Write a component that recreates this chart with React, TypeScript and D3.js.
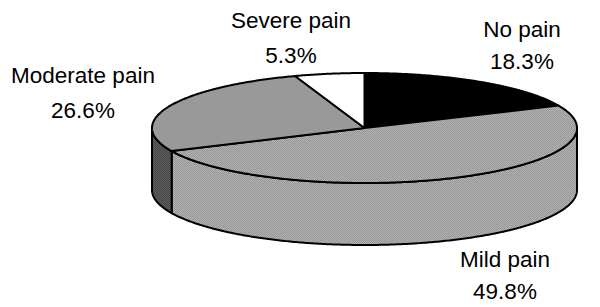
import React from "react";
import * as d3 from "d3";

const categories = ["No pain", "Mild pain", "Moderate pain", "Severe pain"];
const values = [18.3, 49.8, 26.6, 5.3];

const labelLayout = [
  { x: 522, y1: 37, y2: 69 },
  { x: 505, y1: 267, y2: 299 },
  { x: 83, y1: 83, y2: 118 },
  { x: 291, y1: 28, y2: 63 },
];

const topFills = ["#000000", "url(#mildPat)", "#999999", "#ffffff"];
const sideFills = ["#000000", "url(#mildPat)", "url(#modSidePat)", "#ffffff"];

const W = 600;
const H = 307;
const cx = 364.5;
const cy = 128;
const rx = 212.5;
const ry = 55;
const depth = 62;

function pt(a: number, dy = 0): [number, number] {
  return [cx + rx * Math.sin(a), cy - ry * Math.cos(a) + dy];
}

function arcPts(a0: number, a1: number, dy = 0): [number, number][] {
  const n = Math.max(2, Math.ceil(Math.abs(a1 - a0) / 0.01));
  const out: [number, number][] = [];
  for (let i = 0; i <= n; i++) out.push(pt(a0 + ((a1 - a0) * i) / n, dy));
  return out;
}

export default function App() {
  const pie = d3
    .pie<number>()
    .sort(null)
    .startAngle(0)
    .endAngle(2 * Math.PI)
    .value((d) => d);
  const arcs = pie(values);
  const line = d3.line<[number, number]>();

  const sides: { d: string; fill: string }[] = [];
  arcs.forEach((a, i) => {
    const s = Math.max(a.startAngle, Math.PI / 2);
    const e = Math.min(a.endAngle, (3 * Math.PI) / 2);
    if (e > s) {
      const top = arcPts(s, e);
      const bot = arcPts(e, s, depth);
      sides.push({ d: (line([...top, ...bot]) || "") + "Z", fill: sideFills[i] });
    }
  });

  const tops = arcs.map((a, i) => {
    const p = [[cx, cy] as [number, number], ...arcPts(a.startAngle, a.endAngle)];
    return { d: (line(p) || "") + "Z", fill: topFills[i] };
  });

  return (
    <svg
      width={W}
      height={H}
      style={{ position: "absolute", left: 0, top: 0, background: "#fff" }}
    >
      <defs>
        <pattern id="mildPat" width={2} height={2} patternUnits="userSpaceOnUse">
          <rect width={2} height={2} fill="#b2b2b2" />
          <rect width={1} height={1} fill="#979797" />
          <rect x={1} y={1} width={1} height={1} fill="#979797" />
        </pattern>
        <pattern id="modSidePat" width={2} height={2} patternUnits="userSpaceOnUse">
          <rect width={2} height={2} fill="#5a5a5a" />
          <rect width={1} height={1} fill="#4a4a4a" />
          <rect x={1} y={1} width={1} height={1} fill="#4a4a4a" />
        </pattern>
      </defs>
      <rect width={W} height={H} fill="#fff" />
      {sides.map((s, i) => (
        <path key={"s" + i} d={s.d} fill={s.fill} stroke="#000" strokeWidth={2} strokeLinejoin="round" />
      ))}
      {tops.map((t, i) => (
        <path key={"t" + i} d={t.d} fill={t.fill} stroke="#000" strokeWidth={2} strokeLinejoin="round" />
      ))}
      {categories.map((c, i) => (
        <g key={"l" + i} fontFamily="'Liberation Sans', Arial, sans-serif" fontSize={22.5} fill="#000" textAnchor="middle">
          <text x={labelLayout[i].x} y={labelLayout[i].y1}>{c}</text>
          <text x={labelLayout[i].x} y={labelLayout[i].y2}>{values[i].toFixed(1)}%</text>
        </g>
      ))}
    </svg>
  );
}
